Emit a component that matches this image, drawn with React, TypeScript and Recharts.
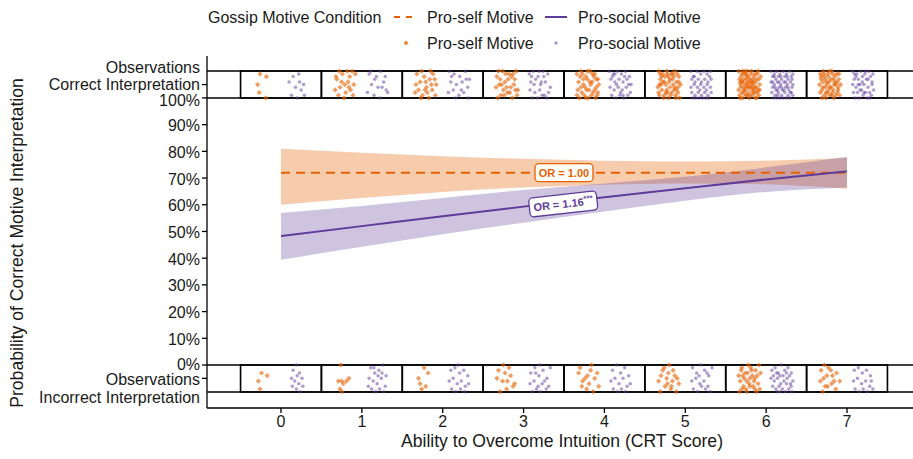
import React from 'react';
import {
  ComposedChart,
  XAxis,
  YAxis,
  Line,
  Area,
  Scatter,
  ReferenceLine,
  ReferenceArea,
  ReferenceDot,
} from 'recharts';

const FONT = '"Liberation Sans", Arial, Helvetica, sans-serif';
const ORANGE = '#e66101';
const PURPLE = '#5e3c99';
const TEXT = '#1a1a1a';

// ---- model fits (probability of correct interpretation) ----
const crtScores = [0, 1, 2, 3, 4, 5, 6, 7];
const selfFit = [0.72, 0.72, 0.72, 0.72, 0.72, 0.72, 0.72, 0.72];
const selfLow = [0.6, 0.625, 0.648, 0.665, 0.675, 0.68, 0.677, 0.66];
const selfHigh = [0.81, 0.795, 0.782, 0.772, 0.765, 0.762, 0.765, 0.775];
const socialFit = [0.483, 0.52, 0.557, 0.593, 0.628, 0.662, 0.695, 0.725];
const socialLow = [0.394, 0.443, 0.49, 0.533, 0.575, 0.615, 0.648, 0.665];
const socialHigh = [0.569, 0.595, 0.625, 0.655, 0.68, 0.705, 0.74, 0.78];

// ---- axis ticks ----
const yTicks = [-0.05, 0, 0.1, 0.2, 0.3, 0.4, 0.5, 0.6, 0.7, 0.8, 0.9, 1.0, 1.05];
const xTicks = crtScores;

// strips of raw observations (probability-axis units)
const correctStrip = [1.0, 1.101];
const incorrectStrip = [-0.101, 0];

// ---- jittered observations: "dx,dy" in hundredths within each CRT cell ----
const correctSelf = [
  '-6,9 2,8 -9,5 -7,2 1,0',
  '-11,7 -4,9 3,6 8,10 -13,3 -7,4 0,2 5,8 10,5 -2,0 -9,1 6,3 12,9 -5,6 2,10 -12,8 9,1 -1,5 4,4 -8,10',
  '-12,9 -3,8 5,10 10,7 -8,6 0,4 7,3 -14,2 -5,1 3,0 12,5 -10,3 -1,6 8,9 -6,10 1,2 11,1 -13,5 4,7 -7,0 6,5 -2,3',
  '-13,8 -6,10 2,9 9,7 13,3 -10,5 -3,6 4,4 11,10 -8,1 0,2 6,0 -12,0 -5,3 1,7 8,5 -14,4 -2,9 5,8 12,1 -9,7 -4,1 3,2 10,3 -11,10 -1,4 7,9 -7,5',
  '-14,9 -9,10 -3,8 2,10 8,9 12,7 -12,6 -6,5 -1,7 5,6 10,4 -13,3 -8,2 -4,4 1,3 6,2 11,1 -11,0 -5,1 0,0 4,1 9,0 13,5 -10,8 -2,3 3,5 7,8 -7,9 -14,1 2,6 -3,0 8,3 -9,4 5,9 -6,7 12,2 -1,10 10,7',
  '-13,10 -8,9 -3,10 3,9 7,10 12,8 -11,7 -6,6 -1,8 4,7 9,6 14,5 -14,4 -9,3 -4,5 1,4 6,3 11,2 -12,1 -7,0 -2,2 2,1 8,0 13,0 -10,5 -5,8 0,6 5,5 10,9 -13,2 -8,6 -3,3 3,2 7,4 12,6 -11,9 -6,1 -1,0 4,9 9,3 -9,8 -4,2 1,7 6,8 11,4 -12,5 -2,9 8,1',
  '-14,10 -10,9 -6,10 -2,8 2,10 6,9 10,10 13,8 -13,7 -9,6 -5,7 -1,6 3,7 7,6 11,7 -12,5 -8,4 -4,5 0,4 4,5 8,4 12,5 -14,3 -10,2 -6,3 -2,2 2,3 6,2 10,3 -13,1 -9,0 -5,1 -1,0 3,1 7,0 11,1 -11,8 -7,9 -3,10 1,9 5,8 9,9 -12,6 -8,7 -4,8 0,7 4,6 8,7 12,3 -11,4 -7,3 -3,4 1,5 5,3 9,2 -12,0 -8,2 -4,1 0,1 4,2 8,0 -10,6 -6,5 -2,4 2,6 6,4 -9,10 -5,9 -3,6 3,4',
  '-13,9 -9,10 -4,9 1,10 5,8 10,9 -12,7 -7,7 -2,6 3,7 8,6 12,5 -14,5 -10,4 -5,5 0,4 4,5 9,3 -13,2 -8,1 -3,3 2,2 6,1 11,1 -11,0 -6,0 -1,1 4,0 8,2 -12,8 -8,8 -3,8 2,9 7,9 -10,6 -5,6 0,7 5,6 -11,3 -6,2 -1,4 3,3 9,4 -9,9 -4,2 1,1 6,5 -7,4 -2,10 10,7',
];
const correctSocial = [
  '-5,8 2,9 8,5 -10,6 -2,4 5,3 -7,1 0,0 9,1 3,6',
  '-11,9 -4,7 3,10 9,8 -8,5 0,4 7,6 12,2 -13,2 -5,1 2,0 10,3 -2,8 5,4 -9,10',
  '-12,10 -6,9 1,8 8,10 13,7 -10,6 -3,5 4,6 11,4 -13,2 -7,3 0,1 6,2 12,0 -4,0 3,3 -9,8 9,7',
  '-13,9 -8,10 -2,8 4,10 10,9 -11,6 -5,7 1,5 7,6 13,4 -12,3 -6,2 0,3 6,1 11,2 -9,0 -3,0 3,1 9,0 -10,8 -1,10 5,8 -7,5 2,6',
  '-14,10 -9,9 -4,10 1,9 6,10 11,8 -12,7 -7,6 -2,7 3,6 8,7 13,5 -13,4 -8,3 -3,4 2,3 7,4 12,2 -11,1 -6,0 -1,1 4,0 9,1 -10,8 -5,5 0,2 5,8 10,5 -7,9 3,1',
  '-13,10 -9,8 -5,10 -1,9 3,10 7,9 11,10 -12,7 -8,6 -4,7 0,6 4,7 8,6 12,7 -13,4 -9,5 -5,4 -1,5 3,4 7,5 11,4 -12,2 -8,1 -4,2 0,1 4,2 8,1 12,2 -11,0 -7,0 -3,0 1,0 5,0 9,0 -10,8 -2,3 6,3 10,8',
  '-14,10 -10,9 -7,10 -3,9 1,10 5,9 9,10 13,9 -12,8 -8,7 -5,8 -1,7 3,8 7,7 11,8 -14,6 -10,5 -6,6 -2,5 2,6 6,5 10,6 13,5 -12,4 -8,3 -4,4 0,3 4,4 8,3 12,4 -13,2 -9,1 -5,2 -1,1 3,2 7,1 11,2 -11,0 -7,0 -3,0 1,0 5,0 9,0 13,1 -10,8 -6,3 -2,8 2,3 6,8 10,2 -12,6 -4,6 4,6 12,7 -9,4 -1,4 7,4 -6,1',
  '-13,10 -8,9 -3,10 2,9 7,10 12,9 -11,7 -6,7 -1,8 4,7 9,8 -13,5 -9,4 -4,5 1,5 6,4 11,5 -12,2 -7,2 -2,3 3,2 8,2 13,3 -10,0 -5,0 0,1 5,0 10,1 -9,8 -4,3 1,2 6,7 11,6 -11,9 3,10 -6,5 8,0 -1,6',
];
const incorrectSelf = [
  '-4,3 3,4 -8,6 -6,9',
  '-6,0 -9,6 -5,6 -3,7 1,6 -7,9 -5,10 4,5',
  '-10,5 -8,7 -3,1 -6,9 2,3 -1,8',
  '-11,2 -6,6 -1,9 4,4 9,7 -9,10 -3,3 2,1 7,8 -13,5 0,6 -5,0',
  '-12,3 -7,6 -2,9 3,2 8,5 13,8 -10,1 -4,5 1,7 6,10 11,3 -8,8 -1,4 4,0',
  '-13,6 -8,2 -3,5 2,9 7,4 12,7 -11,10 -6,1 -1,3 4,6 9,10 -10,4 -5,8 0,0 5,2 10,5 -2,7 3,8',
  '-14,4 -10,1 -6,3 -2,0 2,2 6,5 10,7 13,3 -12,6 -8,8 -4,6 0,5 4,8 8,10 12,9 -13,10 -9,4 -5,9 -1,7 3,4 7,2 11,0 -11,2 -7,5 -3,3 1,1 5,6 9,4 -10,9 -4,10 0,8 6,9',
  '-12,2 -8,0 -3,1 2,4 7,3 11,6 -13,6 -9,5 -4,8 1,7 6,9 -10,10 -5,4 0,2 4,6 -7,8',
];
const incorrectSocial = [
  '-5,2 -1,0 3,3 6,5 -7,5 -3,6 2,7 7,8 -6,8 -1,9 4,10 0,4',
  '-9,1 -4,3 1,2 6,0 10,4 -11,5 -6,6 -1,7 4,5 9,8 -8,9 -3,10 2,9 7,10 -12,8 0,4 5,3 -5,1',
  '-10,2 -5,1 1,3 6,2 11,4 -12,6 -7,5 -2,7 3,6 8,8 -9,9 -4,10 2,9 7,10 12,7 -1,0',
  '-11,3 -6,1 -1,4 4,2 9,5 13,1 -12,7 -7,6 -2,8 3,7 8,9 -9,10 -4,9 1,10 6,6 11,8 -5,3 0,0',
  '-10,2 -5,0 0,3 5,1 10,4 -12,6 -7,5 -2,7 3,5 8,8 -9,9 -4,10 1,9 6,10 12,7',
  '-11,1 -6,3 -1,0 4,2 9,4 13,1 -12,6 -7,5 -2,7 3,6 8,8 -10,9 -5,10 0,8 5,9 10,10 -3,4 7,3',
  '-13,2 -9,1 -5,3 -1,0 3,2 7,1 11,3 -14,5 -10,6 -6,5 -2,7 2,6 6,5 10,7 13,6 -12,8 -8,9 -4,8 0,9 4,10 8,9 12,10 -11,4 -7,3 -3,4 1,4 5,3 9,4 -6,10 -2,10 5,7 11,8',
  '-11,2 -6,1 -1,3 4,2 9,4 -12,6 -7,5 -2,7 3,6 8,8 12,9 -10,9 -5,10 0,9 5,10 10,6',
];
const selfOffset = -0.2;
const socialOffset = 0.2;

function buildPoints(cells: string[], offset: number, strip: number[], fromTop: boolean) {
  const pts: { crt: number; prob: number }[] = [];
  cells.forEach((cell, k) => {
    cell
      .trim()
      .split(/\s+/)
      .forEach((pair) => {
        const [dx, dy] = pair.split(',').map(Number);
        pts.push({
          crt: crtScores[k] + offset + dx / 100,
          prob: fromTop ? strip[0] + dy / 100 : strip[1] - dy / 100,
        });
      });
  });
  return pts;
}

const selfPoints = [
  ...buildPoints(correctSelf, selfOffset, correctStrip, true),
  ...buildPoints(incorrectSelf, selfOffset, incorrectStrip, false),
];
const socialPoints = [
  ...buildPoints(correctSocial, socialOffset, correctStrip, true),
  ...buildPoints(incorrectSocial, socialOffset, incorrectStrip, false),
];

const fitData = crtScores.map((c, i) => ({
  crt: c,
  selfBand: [selfLow[i], selfHigh[i]],
  socialBand: [socialLow[i], socialHigh[i]],
  selfFit: selfFit[i],
  socialFit: socialFit[i],
}));

const DiamondShape = (p: any) => {
  const { cx, cy } = p;
  if (cx == null || cy == null) return null;
  const s = 2.6;
  return (
    <path
      d={`M${cx},${cy - s}L${cx + s},${cy}L${cx},${cy + s}L${cx - s},${cy}Z`}
      fill={ORANGE}
      fillOpacity={0.62}
    />
  );
};
const DotShape = (p: any) => {
  const { cx, cy } = p;
  if (cx == null || cy == null) return null;
  return <circle cx={cx} cy={cy} r={1.75} fill={PURPLE} fillOpacity={0.5} />;
};

const YTick = (props: any) => {
  const { x, y, payload } = props;
  const v = payload.value;
  const base = {
    x,
    textAnchor: 'end' as const,
    fontFamily: FONT,
    fontSize: 16,
    fill: TEXT,
    dy: '0.35em',
  };
  if (v > 1.01) {
    return (
      <g>
        <text {...base} y={y - 17.5}>Observations</text>
        <text {...base} y={y - 0.5}>Correct Interpretation</text>
      </g>
    );
  }
  if (v < -0.01) {
    return (
      <g>
        <text {...base} y={y + 1}>Observations</text>
        <text {...base} y={y + 19}>Incorrect Interpretation</text>
      </g>
    );
  }
  return (
    <text {...base} y={v === 1 ? y + 2.5 : v === 0 ? y - 1 : y + 1}>
      {Math.round(v * 100) + '%'}
    </text>
  );
};

const XTick = (props: any) => {
  const { x, y, payload } = props;
  return (
    <text x={x} y={y} dy="0.72em" textAnchor="middle" fontFamily={FONT} fontSize={16} fill={TEXT}>
      {payload.value}
    </text>
  );
};

const OrLabel = ({ cx, cy, color, w, h, angle, main, stars }: any) => {
  if (cx == null || cy == null) return null;
  return (
    <g transform={`rotate(${angle} ${cx} ${cy})`}>
      <rect
        x={cx - w / 2}
        y={cy - h / 2}
        width={w}
        height={h}
        rx={4}
        ry={4}
        fill="#ffffff"
        stroke={color}
        strokeWidth={1.3}
      />
      <text
        x={cx}
        y={cy}
        dy="0.36em"
        textAnchor="middle"
        fontFamily={FONT}
        fontSize={11}
        fontWeight="bold"
        fill={color}
      >
        {main}
        {stars ? (
          <tspan fontSize={8} dy={-4}>
            {stars}
          </tspan>
        ) : null}
      </text>
    </g>
  );
};

const Legend = () => {
  const t = { fontFamily: FONT, fontSize: 16, fill: TEXT };
  return (
    <svg
      width={913}
      height={459}
      style={{ position: 'absolute', left: 0, top: 0, pointerEvents: 'none' }}
    >
      <text {...t} x={208} y={17} dy="0.35em">Gossip Motive Condition</text>
      <line x1={394} x2={414} y1={17} y2={17} stroke={ORANGE} strokeWidth={2} strokeDasharray="6 6" />
      <text {...t} x={427} y={17} dy="0.35em">Pro-self Motive</text>
      <line x1={545} x2={567} y1={17} y2={17} stroke={PURPLE} strokeWidth={2} />
      <text {...t} x={578} y={17} dy="0.35em">Pro-social Motive</text>
      <path d="M406,40.5L408.5,43L406,45.5L403.5,43Z" fill={ORANGE} fillOpacity={0.75} />
      <text {...t} x={427} y={43} dy="0.35em">Pro-self Motive</text>
      <circle cx={556} cy={43} r={1.8} fill={PURPLE} fillOpacity={0.5} />
      <text {...t} x={578} y={43} dy="0.35em">Pro-social Motive</text>
      <text {...t} fontSize={17.6} x={562} y={441} dy="0.35em" textAnchor="middle">
        Ability to Overcome Intuition (CRT Score)
      </text>
      <text
        {...t}
        fontSize={17.6}
        x={0}
        y={0}
        dy="0.35em"
        textAnchor="middle"
        transform="translate(17 243) rotate(-90)"
      >
        Probability of Correct Motive Interpretation
      </text>
    </svg>
  );
};

export default function App() {
  return (
    <div style={{ position: 'absolute', left: 0, top: 0, width: 913, height: 459, background: '#fff' }}>
      <ComposedChart
        width={913}
        height={459}
        data={fitData}
        margin={{ top: 56, right: 0, bottom: 0, left: 0 }}
      >
        <XAxis
          dataKey="crt"
          type="number"
          domain={[-0.915, 7.816]}
          allowDataOverflow
          ticks={xTicks}
          interval={0}
          height={51}
          tickSize={5}
          axisLine={{ stroke: '#000', strokeWidth: 1.3 }}
          tickLine={{ stroke: '#000', strokeWidth: 1.3 }}
          tick={<XTick />}
        />
        <YAxis
          dataKey="prob"
          type="number"
          domain={[-0.161, 1.157]}
          allowDataOverflow
          ticks={yTicks}
          interval={0}
          width={207}
          tickSize={5}
          axisLine={{ stroke: '#000', strokeWidth: 1.3 }}
          tickLine={{ stroke: '#000', strokeWidth: 1.3 }}
          tick={<YTick />}
        />
        {crtScores.map((c) => (
          <ReferenceArea
            key={'ct' + c}
            x1={c - 0.5}
            x2={c + 0.5}
            y1={correctStrip[0]}
            y2={correctStrip[1]}
            fill="none"
            fillOpacity={0}
            stroke="#000"
            strokeWidth={1.6}
          />
        ))}
        {crtScores.map((c) => (
          <ReferenceArea
            key={'ic' + c}
            x1={c - 0.5}
            x2={c + 0.5}
            y1={incorrectStrip[0]}
            y2={incorrectStrip[1]}
            fill="none"
            fillOpacity={0}
            stroke="#000"
            strokeWidth={1.6}
          />
        ))}
        {[...correctStrip, ...incorrectStrip].map((v) => (
          <ReferenceLine key={'h' + v} y={v} stroke="#000" strokeWidth={1.6} />
        ))}
        <Area
          dataKey="selfBand"
          type="monotone"
          stroke="none"
          fill={ORANGE}
          fillOpacity={0.32}
          isAnimationActive={false}
          dot={false}
          activeDot={false}
        />
        <Area
          dataKey="socialBand"
          type="monotone"
          stroke="none"
          fill={PURPLE}
          fillOpacity={0.3}
          isAnimationActive={false}
          dot={false}
          activeDot={false}
        />
        <Line
          dataKey="selfFit"
          type="monotone"
          stroke={ORANGE}
          strokeWidth={2}
          strokeDasharray="9 6"
          dot={false}
          activeDot={false}
          isAnimationActive={false}
        />
        <Line
          dataKey="socialFit"
          type="monotone"
          stroke={PURPLE}
          strokeWidth={2}
          dot={false}
          activeDot={false}
          isAnimationActive={false}
        />
        <Scatter data={selfPoints} dataKey="prob" shape={<DiamondShape />} isAnimationActive={false} />
        <Scatter data={socialPoints} dataKey="prob" shape={<DotShape />} isAnimationActive={false} />
        <ReferenceDot
          x={3.5}
          y={0.72}
          r={0}
          shape={(p: any) => (
            <OrLabel cx={p.cx} cy={p.cy} color={ORANGE} w={58} h={18} angle={0} main="OR = 1.00" />
          )}
        />
        <ReferenceDot
          x={3.49}
          y={0.603}
          r={0}
          shape={(p: any) => (
            <OrLabel cx={p.cx} cy={p.cy} color={PURPLE} w={68} h={19} angle={-6.4} main="OR = 1.16" stars="***" />
          )}
        />
      </ComposedChart>
      <Legend />
    </div>
  );
}
